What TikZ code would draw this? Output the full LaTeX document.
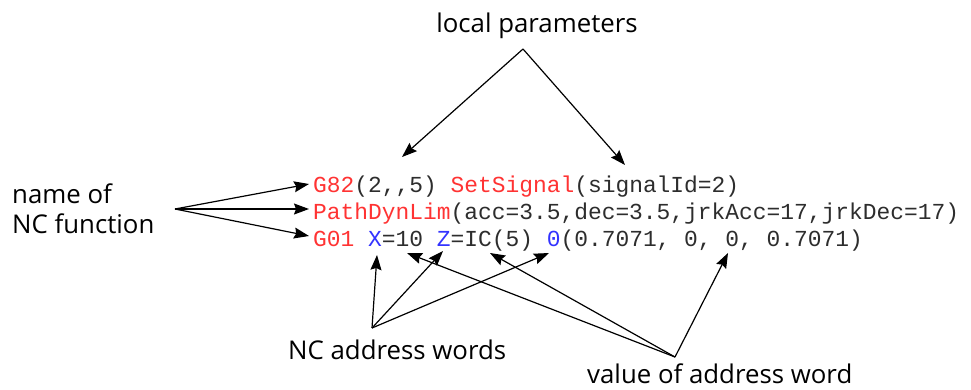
\documentclass[tikz,border=0pt]{standalone}
\usepackage{fontspec}
\setmainfont{Open Sans}
\newfontfamily\codefont{Liberation Mono}
\usetikzlibrary{arrows.meta}

\definecolor{fnred}{RGB}{255,51,51}
\definecolor{addrblue}{RGB}{51,51,255}
\definecolor{codegray}{RGB}{45,45,45}
\newcommand{\fn}[1]{\textcolor{fnred}{#1}}
\newcommand{\addr}[1]{\textcolor{addrblue}{#1}}

\begin{document}
\begin{tikzpicture}[x=1pt,y=-1pt,
    label/.style={inner sep=0pt,font=\fontsize{25.8}{30}\selectfont},
    code/.style={inner sep=0pt,anchor=base west,text=codegray,font=\codefont\fontsize{22.9}{27}\selectfont},
    pointer/.style={-{Stealth[length=15pt,width=11pt,inset=2pt]},line width=1.2pt}]
  \useasboundingbox (0,0) rectangle (971,389);

  % the program lines
  \node[code] (line1) at (313,192) {\fn{G82}(2,,5) \fn{SetSignal}(signalId=2)};
  \node[code] (line2) at (313,219) {\fn{PathDynLim}(acc=3.5,dec=3.5,jrkAcc=17,jrkDec=17)};
  \node[code] (line3) at (313,246) {\fn{G01} \addr{X}=10 \addr{Z}=IC(5) \addr{0}(0.7071, 0, 0, 0.7071)};

  % labels
  \node[label,anchor=base] (local) at (537,32) {local parameters};
  \node[label,anchor=base west,align=left] (ncfunc) at (12,233) {name of\\NC function};
  \node[label,anchor=base west] (addrwords) at (288,359) {NC address words};
  \node[label,anchor=base west] (addrvalue) at (587,383) {value of address word};

  % where the arrows meet
  \coordinate (localtip) at (523,49);
  \coordinate (functip) at (175,209);
  \coordinate (wordtip) at (372,328);
  \coordinate (valuetip) at (675,357);

  % what they point at
  \coordinate (paramA) at (402,157);
  \coordinate (paramB) at (625,165);
  \coordinate (fnA) at (309,184);
  \coordinate (fnB) at (309,209);
  \coordinate (fnC) at (309,236);
  \coordinate (wordX) at (377,255);
  \coordinate (wordZ) at (443,251);
  \coordinate (wordO) at (549,253);
  \coordinate (valX) at (407,253);
  \coordinate (valZ) at (490,253);
  \coordinate (valO) at (728,253);

  \draw[pointer] (localtip) -- (paramA);
  \draw[pointer] (localtip) -- (paramB);
  \foreach \t in {fnA,fnB,fnC}
    \draw[pointer] (functip) -- (\t);
  \foreach \t in {wordX,wordZ,wordO}
    \draw[pointer] (wordtip) -- (\t);
  \foreach \t in {valX,valZ,valO}
    \draw[pointer] (valuetip) -- (\t);
\end{tikzpicture}
\end{document}
